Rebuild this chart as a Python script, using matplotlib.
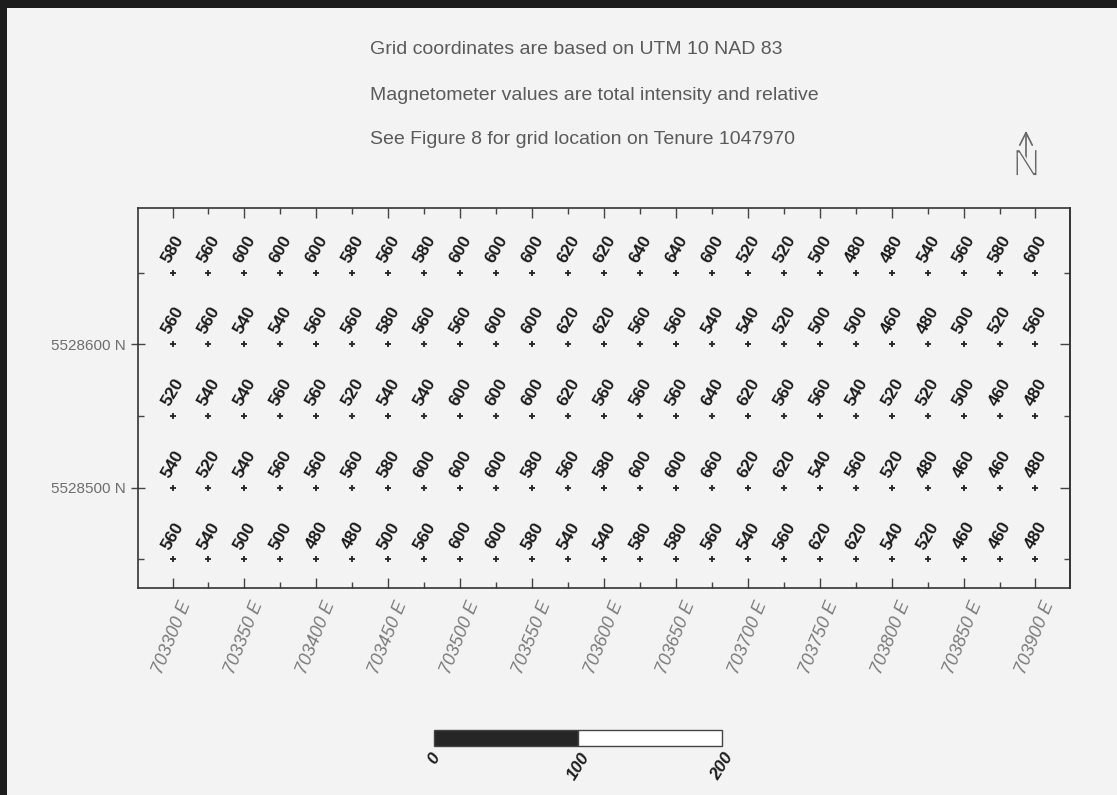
import matplotlib
matplotlib.use("Agg")
import matplotlib.pyplot as plt
import matplotlib.patheffects as pe
from matplotlib.patches import Rectangle, FancyArrowPatch
from matplotlib.ticker import MultipleLocator, FuncFormatter, NullFormatter

plt.rcParams["font.family"] = ["Liberation Sans", "DejaVu Sans"]

# survey stations (UTM 10, NAD 83)
eastings = [703300, 703325, 703350, 703375, 703400, 703425, 703450, 703475,
            703500, 703525, 703550, 703575, 703600, 703625, 703650, 703675,
            703700, 703725, 703750, 703775, 703800, 703825, 703850, 703875,
            703900]
northings = [5528650, 5528600, 5528550, 5528500, 5528450]

# total field readings, one row per northing (north to south)
mag_5528650 = [580, 560, 600, 600, 600, 580, 560, 580, 600, 600, 600, 620, 620,
               640, 640, 600, 520, 520, 500, 480, 480, 540, 560, 580, 600]
mag_5528600 = [560, 560, 540, 540, 560, 560, 580, 560, 560, 600, 600, 620, 620,
               560, 560, 540, 540, 520, 500, 500, 460, 480, 500, 520, 560]
mag_5528550 = [520, 540, 540, 560, 560, 520, 540, 540, 600, 600, 600, 620, 560,
               560, 560, 640, 620, 560, 560, 540, 520, 520, 500, 460, 480]
mag_5528500 = [540, 520, 540, 560, 560, 560, 580, 600, 600, 600, 580, 560, 580,
               600, 600, 660, 620, 620, 540, 560, 520, 480, 460, 460, 480]
mag_5528450 = [560, 540, 500, 500, 480, 480, 500, 560, 600, 600, 580, 540, 540,
               580, 580, 560, 540, 560, 620, 620, 540, 520, 460, 460, 480]
mag_rows = [mag_5528650, mag_5528600, mag_5528550, mag_5528500, mag_5528450]

notes = ["Grid coordinates are based on UTM 10 NAD 83",
         "Magnetometer values are total intensity and relative",
         "See Figure 8 for grid location on Tenure 1047970"]
scale_marks = [0, 100, 200]

BG = "#f2f3f2"
W, H = 1117, 795

fig = plt.figure(figsize=(W / 100, H / 100), dpi=100, facecolor=BG)
ax = fig.add_axes([138 / W, 1 - 588 / H, 932 / W, 380 / H])
ax.set_facecolor(BG)
ax.set_xlim(703276, 703924)
ax.set_ylim(5528430, 5528695)

for north, row in zip(northings, mag_rows):
    ax.plot(eastings, [north] * len(eastings), "+", color="#222222",
            ms=4, mew=1.3, zorder=3)
    for east, val in zip(eastings, row):
        ax.annotate(str(val), (east, north), xytext=(0.5, 17),
                    textcoords="offset points", ha="center", va="center",
                    rotation=60, fontsize=12.5, fontweight="bold",
                    color="#1a1a1a")

# ticks
ax.xaxis.set_major_locator(MultipleLocator(50))
ax.xaxis.set_minor_locator(MultipleLocator(25))
ax.yaxis.set_major_locator(MultipleLocator(100))
ax.yaxis.set_minor_locator(MultipleLocator(50))
ax.xaxis.set_major_formatter(FuncFormatter(lambda v, p: f"{v:.0f} E"))
ax.yaxis.set_major_formatter(FuncFormatter(lambda v, p: f"{v:.0f} N"))

ax.tick_params(axis="x", which="both", direction="in", top=True,
               color="#444444", width=1)
ax.tick_params(axis="x", which="major", length=7, pad=8, labelsize=13,
               labelcolor="#7a7a7a", labelrotation=68)
ax.tick_params(axis="x", which="minor", length=4)
ax.tick_params(axis="y", which="both", right=False, color="#444444", width=1)
ax.tick_params(axis="y", which="major", direction="inout", length=10, pad=4,
               labelsize=11, labelcolor="#6e6e6e")
ax.tick_params(axis="y", which="minor", direction="in", length=4)
for lab in ax.get_xticklabels():
    lab.set_style("italic")

# right side: inward ticks only
sec = ax.secondary_yaxis("right")
sec.yaxis.set_major_locator(MultipleLocator(100))
sec.yaxis.set_minor_locator(MultipleLocator(50))
sec.yaxis.set_major_formatter(NullFormatter())
sec.tick_params(which="both", direction="in", color="#444444", width=1)
sec.tick_params(which="major", length=7)
sec.tick_params(which="minor", length=4)
sec.spines["right"].set_color("#333333")
sec.spines["right"].set_linewidth(1.2)

for sp in ax.spines.values():
    sp.set_color("#333333")
    sp.set_linewidth(1.2)

# scale bar (metres, same scale as the grid)
x0, y0, bh = 703482, 5528320, 11
ax.add_patch(Rectangle((x0, y0), 100, bh, facecolor="#262626",
                       edgecolor="#444444", lw=1, clip_on=False))
ax.add_patch(Rectangle((x0 + 100, y0), 100, bh, facecolor="white",
                       edgecolor="#444444", lw=1, clip_on=False))
for m in scale_marks:
    ax.text(x0 + m, y0 - 3, str(m), ha="center", va="top", rotation=58,
            fontsize=12.5, fontweight="bold", style="italic", color="#1e1e1e",
            clip_on=False)

# notes
for i, line in enumerate(notes):
    fig.text(370 / W, 1 - (50 + 45 * i) / H, line, ha="left", va="center",
             fontsize=14, color="#5a5a5a")

# north arrow
fig.add_artist(FancyArrowPatch((1026 / W, 1 - 162 / H), (1026 / W, 1 - 128 / H),
                               transform=fig.transFigure,
                               arrowstyle="->,head_length=9,head_width=4.5",
                               color="#666666", lw=1.2))
fig.text(1026.5 / W, 1 - 166 / H, "N", ha="center", va="center",
         fontsize=28, color="#666666",
         path_effects=[pe.Normal(), pe.Stroke(linewidth=1.3, foreground=BG)])

# frame edges
fig.add_artist(Rectangle((0, 1 - 8 / H), 1, 8 / H, transform=fig.transFigure,
                         color="#1c1c1c", lw=0))
fig.add_artist(Rectangle((0, 0), 7 / W, 1, transform=fig.transFigure,
                         color="#1c1c1c", lw=0))

fig.savefig("out.png", dpi=100, facecolor=BG)
